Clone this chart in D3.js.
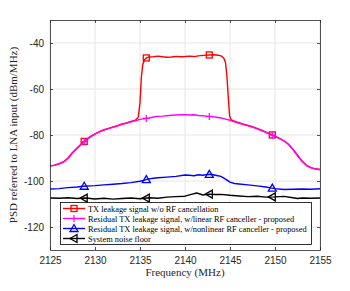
<!DOCTYPE html>
<html>
<head>
<meta charset="utf-8">
<script src="https://cdn.jsdelivr.net/npm/d3@7"></script>
<style>
  body { margin: 0; background: #fff; }
  .tick text { font-family: "Liberation Sans", Arial, sans-serif; font-size: 10px; fill: #262626; }
</style>
</head>
<body>
<div id="chart"></div>
<script>
// Data
var xTicks = [2125, 2130, 2135, 2140, 2145, 2150, 2155];
var yTicks = [-120, -100, -80, -60, -40];
var markerFreqs = [2128.8, 2135.7, 2142.7, 2149.7];

var seriesNames = [
    "TX leakage signal w/o RF cancellation",
    "Residual TX leakage signal, w/linear RF canceller - proposed",
    "Residual TX leakage signal, w/nonlinear RF canceller - proposed",
    "System noise floor"
];

var redFreq = [2125, 2125.5, 2126, 2126.5, 2127, 2127.5, 2128, 2128.5, 2129, 2129.5, 2130, 2130.5, 2131, 2131.5, 2132, 2132.5, 2133, 2133.5, 2134, 2134.5, 2134.8, 2135.0, 2135.15, 2135.3, 2135.5, 2135.7, 2136, 2136.5, 2137, 2137.5, 2138, 2138.5, 2139, 2139.5, 2140, 2140.5, 2141, 2141.5, 2142, 2142.7, 2143.2, 2143.7, 2144, 2144.3, 2144.5, 2144.65, 2144.8, 2144.95, 2145.1, 2145.5, 2146, 2146.5, 2147, 2147.5, 2148, 2148.5, 2149, 2149.5, 2150, 2150.5, 2151, 2151.5, 2152, 2152.5, 2153, 2153.5, 2154, 2154.5, 2155];
var redVal = [-93.4, -93.1, -92.5, -91.6, -90.0, -87.6, -85.7, -83.8, -82.1, -80.6, -79.5, -78.5, -77.7, -77.1, -76.5, -75.9, -75.2, -74.7, -74.1, -73.5, -72.4, -66.0, -55.0, -49.5, -47.3, -46.5, -46.1, -46.0, -45.7, -46.0, -46.2, -46.1, -45.8, -46.0, -45.9, -45.7, -45.9, -45.6, -45.4, -45.2, -45.1, -45.3, -45.6, -46.5, -48.5, -54.0, -63.0, -71.5, -73.3, -74.0, -74.6, -75.3, -75.8, -76.4, -77.1, -77.9, -78.8, -79.6, -80.5, -81.5, -82.5, -84.0, -86.2, -88.8, -91.3, -93.2, -94.2, -94.7, -95.0];

var magFreq = [2125, 2125.5, 2126, 2126.5, 2127, 2127.5, 2128, 2128.5, 2129, 2129.5, 2130, 2130.5, 2131, 2131.5, 2132, 2132.5, 2133, 2133.5, 2134, 2134.5, 2135, 2135.5, 2136, 2136.5, 2137, 2137.5, 2138, 2138.5, 2139, 2139.5, 2140, 2140.5, 2141, 2141.5, 2142, 2142.5, 2143, 2143.5, 2144, 2144.5, 2145, 2145.5, 2146, 2146.5, 2147, 2147.5, 2148, 2148.5, 2149, 2149.5, 2150, 2150.5, 2151, 2151.5, 2152, 2152.5, 2153, 2153.5, 2154, 2154.5, 2155];
var magVal = [-93.5, -93.2, -92.6, -91.8, -90.2, -87.8, -85.9, -84.0, -82.2, -80.8, -79.6, -78.6, -77.9, -77.2, -76.7, -76.1, -75.4, -74.9, -74.3, -73.8, -73.2, -72.9, -72.6, -72.2, -71.9, -71.8, -71.6, -71.4, -71.3, -71.2, -71.2, -71.3, -71.2, -71.5, -71.6, -71.9, -72.0, -72.3, -72.6, -73.1, -73.6, -74.3, -74.9, -75.5, -76.0, -76.6, -77.3, -78.1, -78.9, -79.7, -80.6, -81.6, -82.6, -84.1, -86.3, -88.9, -91.4, -93.3, -94.3, -94.8, -95.1];

var blueFreq = [2125, 2126, 2127, 2128, 2129, 2130, 2131, 2132, 2133, 2134, 2135, 2135.5, 2136, 2136.5, 2137, 2138, 2139, 2140, 2140.5, 2141, 2141.5, 2142, 2142.5, 2143, 2143.5, 2144, 2144.5, 2145, 2145.5, 2146, 2147, 2148, 2149, 2149.5, 2150, 2151, 2152, 2153, 2154, 2155];
var blueVal = [-103.5, -103.3, -102.9, -102.6, -102.2, -102.0, -101.7, -101.4, -101.1, -100.7, -100.1, -99.6, -99.1, -98.8, -98.6, -98.3, -98.0, -97.4, -97.5, -97.7, -97.3, -97.5, -97.1, -97.2, -97.6, -98.0, -99.2, -100.5, -101.1, -101.3, -101.7, -102.1, -102.6, -103.0, -103.3, -103.7, -103.6, -103.5, -103.6, -103.4];

var blackFreq = [2125, 2126, 2127, 2128, 2129, 2130, 2131, 2132, 2133, 2134, 2135, 2136, 2137, 2138, 2139, 2140, 2140.7, 2141.3, 2142, 2142.7, 2143.3, 2144, 2145, 2146, 2147, 2148, 2149, 2150, 2151, 2152, 2152.5, 2153, 2154, 2155];
var blackVal = [-107.4, -107.5, -107.3, -107.6, -107.4, -107.8, -107.5, -107.9, -107.6, -107.4, -107.7, -107.3, -107.5, -107.0, -106.8, -106.6, -105.8, -105.2, -106.1, -105.7, -105.9, -105.8, -106.2, -106.5, -106.8, -106.6, -107.0, -106.9, -106.7, -107.3, -107.6, -107.4, -107.5, -107.4];

var svgWidth = 350;
var svgHeight = 291;
var margin = { top: 20, right: 30, bottom: 41, left: 50 };
var chartWidth = svgWidth - margin.left - margin.right;
var chartHeight = svgHeight - margin.top - margin.bottom;

var svg = d3.select("#chart").append("svg")
    .attr("width", svgWidth)
    .attr("height", svgHeight);

var chartGroup = svg.append("g")
    .attr("transform", `translate(${margin.left}, ${margin.top})`);

var x = d3.scaleLinear().domain([2125, 2155]).range([0, chartWidth]);
var y = d3.scaleLinear().domain([-130, -30]).range([chartHeight, 0]);

// grid
chartGroup.append("g").selectAll("line.gx").data(xTicks).enter().append("line")
    .attr("x1", d => x(d)).attr("x2", d => x(d))
    .attr("y1", 0).attr("y2", chartHeight)
    .attr("stroke", "#e6e6e6").attr("stroke-width", 1);
chartGroup.append("g").selectAll("line.gy").data(yTicks).enter().append("line")
    .attr("x1", 0).attr("x2", chartWidth)
    .attr("y1", d => y(d)).attr("y2", d => y(d))
    .attr("stroke", "#e6e6e6").attr("stroke-width", 1);

// series
var series = [
    { f: redFreq, v: redVal, color: "#ff0000", marker: "square" },
    { f: magFreq, v: magVal, color: "#ff00ff", marker: "plus" },
    { f: blueFreq, v: blueVal, color: "#0000ff", marker: "triUp" },
    { f: blackFreq, v: blackVal, color: "#000000", marker: "triLeft" }
];

var line = d3.line().x(d => x(d[0])).y(d => y(d[1]));

function interp(f, v, q) {
    var i = d3.bisectLeft(f, q);
    if (i <= 0) return v[0];
    if (i >= f.length) return v[v.length - 1];
    var t = (q - f[i - 1]) / (f[i] - f[i - 1]);
    return v[i - 1] + t * (v[i] - v[i - 1]);
}

function drawMarker(g, type, cx, cy, color) {
    var s = 3;
    if (type === "square") {
        g.append("rect").attr("x", cx - s).attr("y", cy - s).attr("width", 2 * s).attr("height", 2 * s)
            .attr("fill", "none").attr("stroke", color).attr("stroke-width", 1.3);
    } else if (type === "plus") {
        g.append("path").attr("d", `M${cx - 3.5},${cy}H${cx + 3.5}M${cx},${cy - 3.5}V${cy + 3.5}`)
            .attr("stroke", color).attr("stroke-width", 1.2);
    } else if (type === "triUp") {
        g.append("path").attr("d", `M${cx},${cy - 4}L${cx + 4},${cy + 3}L${cx - 4},${cy + 3}Z`)
            .attr("fill", "none").attr("stroke", color).attr("stroke-width", 1.3);
    } else {
        g.append("path").attr("d", `M${cx - 4},${cy}L${cx + 3},${cy - 4}L${cx + 3},${cy + 4}Z`)
            .attr("fill", "none").attr("stroke", color).attr("stroke-width", 1.3);
    }
}

var plotGroup = chartGroup.append("g");
series.forEach(function (s) {
    var pts = s.f.map((f, i) => [f, s.v[i]]);
    plotGroup.append("path").datum(pts)
        .attr("d", line)
        .attr("fill", "none")
        .attr("stroke", s.color)
        .attr("stroke-width", 1.4)
        .attr("stroke-linejoin", "round");
    markerFreqs.forEach(function (mf) {
        drawMarker(plotGroup, s.marker, x(mf), y(interp(s.f, s.v, mf)), s.color);
    });
});

// axes (ticks inside, MATLAB style)
var axisColor = "#262626";
var bottomAxis = d3.axisBottom(x).tickValues(xTicks).tickFormat(d3.format("d")).tickSizeInner(-3).tickSizeOuter(0).tickPadding(7);
var leftAxis = d3.axisLeft(y).tickValues(yTicks).tickSizeInner(-3).tickSizeOuter(0).tickPadding(6);
var topAxis = d3.axisTop(x).tickValues(xTicks).tickSizeInner(-3).tickSizeOuter(0).tickFormat("");
var rightAxis = d3.axisRight(y).tickValues(yTicks).tickSizeInner(-3).tickSizeOuter(0).tickFormat("");

var gx = chartGroup.append("g").attr("transform", `translate(0, ${chartHeight})`).call(bottomAxis);
var gy = chartGroup.append("g").call(leftAxis);
var gt = chartGroup.append("g").call(topAxis);
var gr = chartGroup.append("g").attr("transform", `translate(${chartWidth}, 0)`).call(rightAxis);
[gx, gy, gt, gr].forEach(function (g) {
    g.selectAll("path, line").attr("stroke", axisColor).attr("stroke-width", 0.8);
});
gy.selectAll(".tick text").text(d => d < 0 ? "-" + Math.abs(d) : d);

// axis labels
svg.append("text")
    .attr("x", margin.left + chartWidth / 2)
    .attr("y", 276)
    .attr("text-anchor", "middle")
    .style("font-family", "'Liberation Serif', 'DejaVu Serif', serif")
    .style("font-size", "11px")
    .attr("fill", "#262626")
    .text("Frequency (MHz)");

svg.append("text")
    .attr("transform", `translate(17, ${margin.top + chartHeight / 2}) rotate(-90)`)
    .attr("text-anchor", "middle")
    .style("font-family", "'Liberation Serif', 'DejaVu Serif', serif")
    .style("font-size", "11px")
    .attr("fill", "#262626")
    .text("PSD referred to LNA input (dBm/MHz)");

// legend
var legend = svg.append("g");
legend.append("rect")
    .attr("x", 60.5).attr("y", 202.5)
    .attr("width", 251).attr("height", 42)
    .attr("fill", "#fff").attr("stroke", "#000").attr("stroke-width", 0.8);

seriesNames.forEach(function (name, i) {
    var ly = 208.5 + i * 10;
    var s = series[i];
    legend.append("line")
        .attr("x1", 63).attr("x2", 85).attr("y1", ly).attr("y2", ly)
        .attr("stroke", s.color).attr("stroke-width", 1.4);
    drawMarker(legend, s.marker, 74, ly, s.color);
    legend.append("text")
        .attr("x", 88).attr("y", ly + 3)
        .style("font-family", "'Liberation Serif', 'DejaVu Serif', serif")
        .style("font-size", "8.4px")
        .attr("fill", "#000")
        .text(name);
});
</script>
</body>
</html>
